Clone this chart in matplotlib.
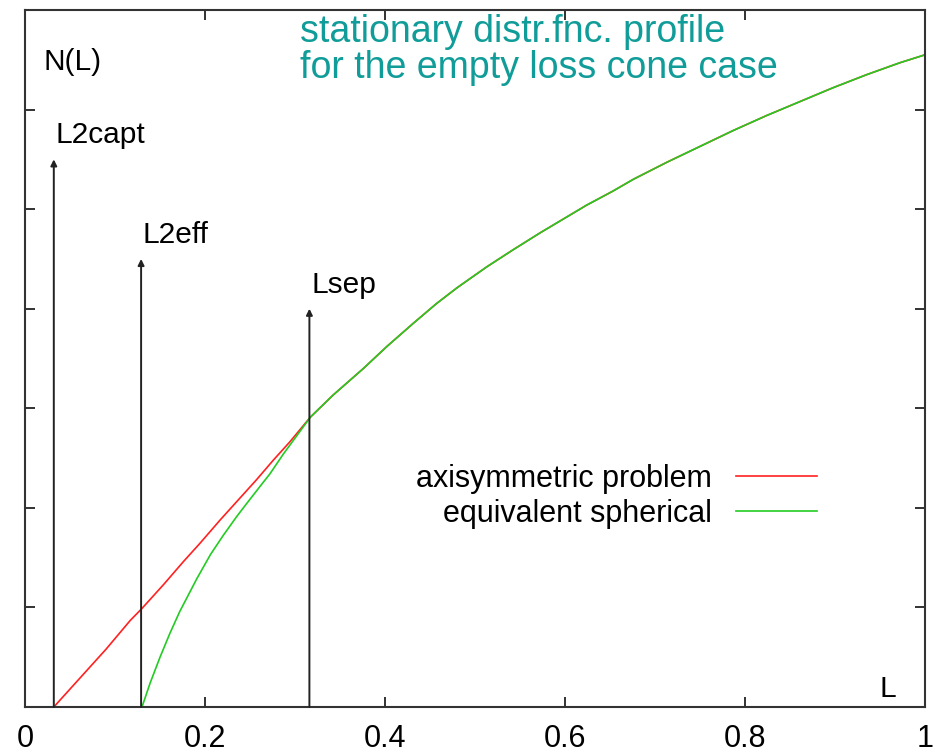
import numpy as np
import matplotlib
matplotlib.use('Agg')
import matplotlib.pyplot as plt

plt.rcParams['font.family'] = ['Liberation Sans', 'DejaVu Sans']

# shared part of both curves beyond the separatrix
L_tail = [0.317, 0.342, 0.376, 0.402, 0.431, 0.457, 0.480, 0.513, 0.542, 0.572,
          0.598, 0.624, 0.653, 0.676, 0.713, 0.750, 0.787, 0.824, 0.861, 0.898,
          0.935, 0.972, 1.0]
N_tail = [0.291, 0.313, 0.340, 0.362, 0.385, 0.405, 0.421, 0.442, 0.459, 0.476,
          0.490, 0.504, 0.518, 0.530, 0.547, 0.563, 0.579, 0.594, 0.608, 0.622,
          0.635, 0.647, 0.655]

# axisymmetric problem (red)
L_axi = [0.032, 0.06, 0.09, 0.117, 0.13, 0.154, 0.176, 0.194, 0.217, 0.239,
         0.257, 0.276, 0.294] + L_tail
N_axi = [0.0, 0.028, 0.058, 0.087, 0.099, 0.123, 0.146, 0.164, 0.188, 0.210,
         0.228, 0.248, 0.266] + N_tail

# equivalent spherical (green)
L_sph = [0.13, 0.139, 0.15, 0.161, 0.172, 0.191, 0.206, 0.220, 0.235, 0.246,
         0.265, 0.272, 0.287, 0.300] + L_tail
N_sph = [0.0, 0.024, 0.050, 0.074, 0.096, 0.129, 0.153, 0.172, 0.191, 0.204,
         0.226, 0.234, 0.254, 0.270] + N_tail

# vertical markers: position, arrow top, label
marks = [(0.032, 0.55, 'L2capt'), (0.129, 0.45, 'L2eff'), (0.316, 0.40, 'Lsep')]
xticks = [0, 0.2, 0.4, 0.6, 0.8, 1]
xticklabels = ['0', '0.2', '0.4', '0.6', '0.8', '1']

fig = plt.figure(figsize=(9.35, 7.54), dpi=100)
ax = fig.add_axes([25 / 935, 1 - 707 / 754, 900 / 935, 697 / 754])

ax.plot(L_axi, N_axi, color='#ff2020', lw=1.2, label='axisymmetric problem')
ax.plot(L_sph, N_sph, color='#22cc22', lw=1.2, label='equivalent spherical')

for x, top, name in marks:
    ax.annotate('', xy=(x, top), xytext=(x, 0),
                arrowprops=dict(arrowstyle='-|>', color='#222222', lw=1.4,
                                mutation_scale=9, shrinkA=0, shrinkB=0))
    ax.text(x + 0.002, top + 0.016, name, fontsize=21.5, color='black',
            va='baseline', ha='left')

ax.text(0.02, 0.6396, 'N(L)', fontsize=21.5, va='baseline', ha='left')
ax.text(0.95, 0.010, 'L', fontsize=21.5, va='baseline', ha='left')

teal = '#109c98'
ax.text(0.3056, 0.6680, 'stationary distr.fnc. profile', fontsize=27,
        color=teal, va='baseline', ha='left')
ax.text(0.3056, 0.6320, 'for the empty loss cone case', fontsize=27,
        color=teal, va='baseline', ha='left')

ax.set_xlim(0, 1)
ax.set_ylim(0, 0.7)
ax.set_xticks(xticks)
ax.set_xticklabels(xticklabels, fontsize=22)
ax.set_yticks(np.arange(0, 0.71, 0.1))
ax.set_yticklabels([])
ax.tick_params(direction='in', length=7, width=1.3, top=True, right=True,
               color='#222222', pad=12)
for s in ax.spines.values():
    s.set_linewidth(1.5)
    s.set_color('#333333')

ax.legend(loc='upper right', bbox_to_anchor=(792 / 900, (707 - 464) / 996 / 0.7),
          frameon=False, markerfirst=False, fontsize=22, handlelength=2.65,
          handletextpad=0.8, labelspacing=0.15, borderpad=0, borderaxespad=0)

fig.savefig('out.png', dpi=100)
